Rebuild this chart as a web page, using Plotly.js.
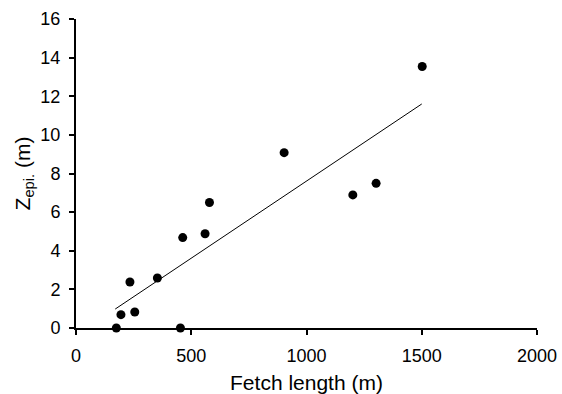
<!DOCTYPE html>
<html><head><meta charset="utf-8">
<script src="https://cdn.plot.ly/plotly-3.0.1.min.js"></script>
<style>html,body{margin:0;padding:0;background:#fff}#chart{width:562px;height:394px}</style>
</head><body><div id="chart"></div>
<script>
const fetchLength = [175, 195, 234, 255, 353, 453, 463, 560, 579, 903, 1201, 1302, 1502];
const zEpi = [0, 0.69, 2.38, 0.83, 2.59, 0, 4.68, 4.88, 6.5, 9.08, 6.89, 7.49, 13.54];
const trendX = [170, 1500];
const trendY = [0.98, 11.6];
const xTicks = [0, 500, 1000, 1500, 2000];
const yTicks = [0, 2, 4, 6, 8, 10, 12, 14, 16];

const font = 'Liberation Sans, Arial, sans-serif';
const data = [
  {x: trendX, y: trendY, mode: 'lines', type: 'scatter', line: {color: '#000', width: 1}, cliponaxis: false, hoverinfo: 'skip'},
  {x: fetchLength, y: zEpi, mode: 'markers', type: 'scatter', marker: {color: '#000', size: 9}, cliponaxis: false}
];
const axisCommon = {
  showgrid: false, zeroline: false, showline: true, linecolor: '#000', linewidth: 2,
  ticks: 'outside', ticklen: 5, tickwidth: 2, tickcolor: '#000',
  tickfont: {family: font, size: 18, color: '#000'}
};
const layout = {
  width: 562, height: 394,
  margin: {l: 76, r: 25, t: 19, b: 66},
  paper_bgcolor: '#fff', plot_bgcolor: '#fff',
  showlegend: false,
  xaxis: Object.assign({}, axisCommon, {range: [0, 2000], tickvals: xTicks, ticktext: xTicks.map(String), ticklabelstandoff: 5,
    title: {text: 'Fetch length (m)', font: {family: font, size: 21, color: '#000'}, standoff: 12}}),
  yaxis: Object.assign({}, axisCommon, {range: [0, 16], tickvals: yTicks, ticktext: yTicks.map(String), ticklabelstandoff: 5,
    title: {text: 'Z<sub>epi.</sub> (m)', font: {family: font, size: 21, color: '#000'}, standoff: 4}})
};
Plotly.newPlot('chart', data, layout, {displayModeBar: false, staticPlot: true});
</script></body></html>
